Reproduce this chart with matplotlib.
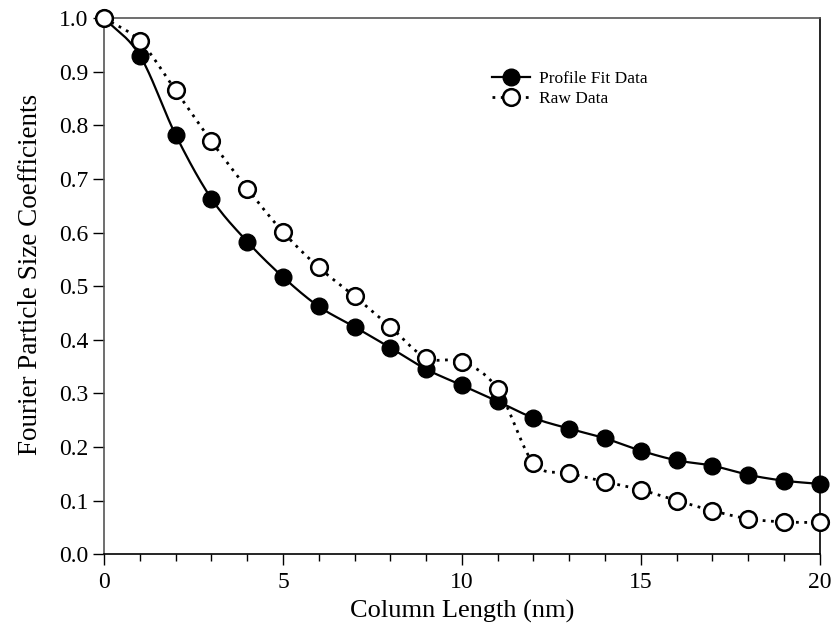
import matplotlib
matplotlib.use("Agg")
import matplotlib.pyplot as plt
import numpy as np
from matplotlib.ticker import MultipleLocator, FormatStrFormatter

# data
column_length = list(range(0, 21))
profile_fit = [1.0, 0.930, 0.782, 0.663, 0.583, 0.517, 0.462, 0.424, 0.385, 0.345,
               0.315, 0.285, 0.254, 0.234, 0.216, 0.193, 0.175, 0.165, 0.148, 0.137, 0.131]
raw_data = [1.0, 0.957, 0.865, 0.770, 0.682, 0.601, 0.535, 0.481, 0.424, 0.366,
            0.359, 0.308, 0.170, 0.151, 0.135, 0.120, 0.100, 0.081, 0.066, 0.060, 0.059]


def smooth_line(x, y, n=20):
    # Catmull-Rom style smoothing like spreadsheet "smoothed lines"
    x = np.asarray(x, float)
    y = np.asarray(y, float)
    px = np.concatenate([[2 * x[0] - x[1]], x, [2 * x[-1] - x[-2]]])
    py = np.concatenate([[2 * y[0] - y[1]], y, [2 * y[-1] - y[-2]]])
    xs, ys = [], []
    t = np.linspace(0, 1, n, endpoint=False)
    for i in range(1, len(px) - 2):
        for arr, out in ((px, xs), (py, ys)):
            p0, p1, p2, p3 = arr[i - 1], arr[i], arr[i + 1], arr[i + 2]
            out.extend(0.5 * ((2 * p1) + (-p0 + p2) * t
                              + (2 * p0 - 5 * p1 + 4 * p2 - p3) * t ** 2
                              + (-p0 + 3 * p1 - 3 * p2 + p3) * t ** 3))
    xs.append(x[-1])
    ys.append(y[-1])
    return np.array(xs), np.array(ys)


plt.rcParams['font.family'] = ['Liberation Serif', 'DejaVu Serif']

fig = plt.figure(figsize=(8.33, 6.24), dpi=100)
ax = fig.add_axes([0.125, 0.112, 0.859, 0.859])

sx, sy = smooth_line(column_length, profile_fit)
ax.plot(sx, sy, color='black', linewidth=1.6, clip_on=False)
ax.plot(column_length, profile_fit, linestyle='none', marker='o', markersize=12,
        color='black', clip_on=False, zorder=3)

rx, ry = smooth_line(column_length, raw_data)
ax.plot(rx, ry, color='black', linewidth=2, linestyle=(0, (1, 2.0)), clip_on=False)
ax.plot(column_length, raw_data, linestyle='none', marker='o', markersize=12,
        markerfacecolor='white', markeredgecolor='black', markeredgewidth=1.8,
        clip_on=False, zorder=3)

# legend proxies
ax.plot([], [], color='black', linewidth=1.6, marker='o', markersize=12,
        label='Profile Fit Data')
ax.plot([], [], color='black', linewidth=2, linestyle=(0, (1, 2.0)), marker='o',
        markersize=12, markerfacecolor='white', markeredgewidth=1.8, label='Raw Data')
handles, labels = ax.get_legend_handles_labels()
ax.legend(handles, labels, loc='upper left', bbox_to_anchor=(0.52, 0.93),
          frameon=False, fontsize=12.5, handlelength=2.2, handletextpad=0.5,
          labelspacing=0.2)

ax.set_xlim(0, 20)
ax.set_ylim(0, 1.0)
ax.xaxis.set_major_locator(MultipleLocator(5))
ax.xaxis.set_minor_locator(MultipleLocator(1))
ax.yaxis.set_major_locator(MultipleLocator(0.1))
ax.yaxis.set_major_formatter(FormatStrFormatter('%.1f'))

ax.tick_params(axis='both', which='major', direction='out', length=8, width=1,
               labelsize=17, colors='black')
ax.tick_params(axis='x', which='minor', direction='out', length=5, width=1)
ax.tick_params(axis='x', which='major', pad=5)

for side in ['left', 'top']:
    ax.spines[side].set_color('#555555')
for side in ['right', 'bottom']:
    ax.spines[side].set_color('black')
for s in ax.spines.values():
    s.set_linewidth(1.2)

ax.set_xlabel('Column Length (nm)', fontsize=19, labelpad=5)
ax.set_ylabel('Fourier Particle Size Coefficients', fontsize=19.5)
ax.yaxis.set_label_coords(-0.085, 0.522)

fig.savefig('out.png', dpi=100)
